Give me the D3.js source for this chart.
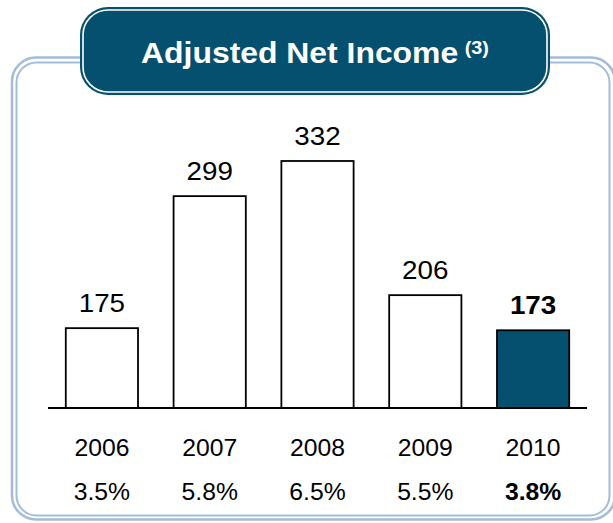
<!DOCTYPE html>
<html lang="en">
<head>
<meta charset="utf-8">
<title>Adjusted Net Income</title>
<script src="https://cdn.jsdelivr.net/npm/d3@7"></script>
<style>
  body { margin: 0; background: #fff; }
  text { font-family: "Liberation Sans", Arial, sans-serif; }
</style>
</head>
<body>
<div id="chart"></div>
<script>
// data
var years = ["2006", "2007", "2008", "2009", "2010"];
var income = [175, 299, 332, 206, 173];
var margins = ["3.5%", "5.8%", "6.5%", "5.5%", "3.8%"];
var highlightYear = "2010";
var title = "Adjusted Net Income";
var titleNote = "(3)";

var W = 613, H = 523;
var navy = "#05506e";
var frameBlue = "#a3bcdc";

var svg = d3.select("#chart").append("svg")
  .attr("width", W)
  .attr("height", H);

// outer double frame
svg.append("rect")
  .attr("x", 12).attr("y", 57.5)
  .attr("width", 603).attr("height", 462)
  .attr("rx", 24)
  .attr("fill", "none")
  .attr("stroke", frameBlue)
  .attr("stroke-width", 2.5);
svg.append("rect")
  .attr("x", 16.5).attr("y", 62.5)
  .attr("width", 593).attr("height", 453)
  .attr("rx", 20)
  .attr("fill", "#fff")
  .attr("stroke", frameBlue)
  .attr("stroke-width", 2);

// title box
svg.append("rect")
  .attr("x", 80).attr("y", 7)
  .attr("width", 470).attr("height", 88)
  .attr("rx", 28)
  .attr("fill", navy);
svg.append("rect")
  .attr("x", 83).attr("y", 10)
  .attr("width", 464).attr("height", 82)
  .attr("rx", 25)
  .attr("fill", "none")
  .attr("stroke", "#fff")
  .attr("stroke-width", 1.6);

var titleText = svg.append("text")
  .attr("transform", "translate(315,63) scale(1.1,1)")
  .attr("text-anchor", "middle")
  .attr("fill", "#fff")
  .attr("font-weight", "bold")
  .attr("font-size", 29);
titleText.append("tspan").text(title);
titleText.append("tspan")
  .attr("font-size", 18)
  .attr("dx", 6)
  .attr("dy", -9)
  .text(titleNote);

// scales
var x = d3.scaleBand()
  .domain(years)
  .range([48, 587])
  .paddingInner(0.33)
  .paddingOuter(0.165);

var y = d3.scaleLinear()
  .domain([100, 332])
  .range([408, 161]);

var rows = years.map(function(d, i) {
  return { year: d, value: income[i], margin: margins[i] };
});

// bars
svg.selectAll("rect.bar")
  .data(rows)
  .enter()
  .append("rect")
  .attr("class", "bar")
  .attr("x", d => x(d.year))
  .attr("y", d => y(d.value))
  .attr("width", x.bandwidth())
  .attr("height", d => y(100) - y(d.value))
  .attr("fill", d => d.year == highlightYear ? navy : "#fff")
  .attr("stroke", "#000")
  .attr("stroke-width", 1.8);

// baseline
svg.append("line")
  .attr("x1", 48).attr("x2", 587)
  .attr("y1", y(100)).attr("y2", y(100))
  .attr("stroke", "#000")
  .attr("stroke-width", 2);

var cx = d => x(d.year) + x.bandwidth() / 2;

// value labels
svg.selectAll("text.value")
  .data(rows)
  .enter()
  .append("text")
  .attr("class", "value")
  .attr("transform", d => "translate(" + cx(d) + "," + (y(d.value) - 16) + ") scale(1.07,1)")
  .attr("text-anchor", "middle")
  .attr("font-size", 26)
  .attr("font-weight", d => d.year == highlightYear ? "bold" : "normal")
  .text(d => d.value);

// year labels
svg.selectAll("text.year")
  .data(rows)
  .enter()
  .append("text")
  .attr("class", "year")
  .attr("transform", d => "translate(" + cx(d) + ",456) scale(1.03,1)")
  .attr("text-anchor", "middle")
  .attr("font-size", 24)
  .text(d => d.year);

// margin labels
svg.selectAll("text.margin")
  .data(rows)
  .enter()
  .append("text")
  .attr("class", "margin")
  .attr("transform", d => "translate(" + cx(d) + ",500) scale(1.03,1)")
  .attr("text-anchor", "middle")
  .attr("font-size", 24)
  .attr("font-weight", d => d.year == highlightYear ? "bold" : "normal")
  .text(d => d.margin);
</script>
</body>
</html>
